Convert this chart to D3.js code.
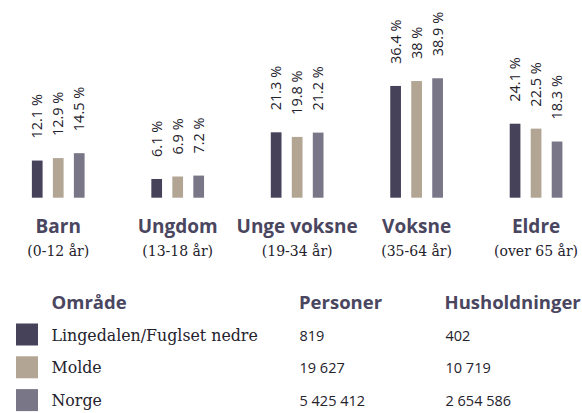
<!DOCTYPE html>
<html>
<head>
<meta charset="utf-8">
<script src="https://cdn.jsdelivr.net/npm/d3@7"></script>
<style>
  html, body { margin: 0; padding: 0; background: #fff; }
  svg { display: block; }
</style>
</head>
<body>
<svg id="chart" width="582" height="413"></svg>
<script>
(() => {
    // Age groups
    const groups = ["Barn", "Ungdom", "Unge voksne", "Voksne", "Eldre"];
    const groupAges = ["(0-12 år)", "(13-18 år)", "(19-34 år)", "(35-64 år)", "(over 65 år)"];

    // Areas (series) and their shares per age group, in %
    const areas = ["Lingedalen/Fuglset nedre", "Molde", "Norge"];
    const lingedalen = [12.1, 6.1, 21.3, 36.4, 24.1];
    const molde = [12.9, 6.9, 19.8, 38, 22.5];
    const norge = [14.5, 7.2, 21.2, 38.9, 18.3];

    // Population and households per area
    const personer = ["819", "19 627", "5 425 412"];
    const husholdninger = ["402", "10 719", "2 654 586"];

    const colors = ["#46425a", "#b2a593", "#797687"];
    const headColor = "#4a4660";
    const textColor = "#24222c";

    const svg = d3.select("#chart");
    const series = [lingedalen, molde, norge];

    const x0 = d3.scaleBand()
        .domain(groups)
        .range([-1.5, 595.8])
        .padding(0);

    const x1 = d3.scaleBand()
        .domain(d3.range(areas.length))
        .range([-31.5, 31.5])
        .paddingInner(0.49)
        .paddingOuter(0.245);

    const y = d3.scaleLinear()
        .domain([0, 40])
        .range([197.7, 197.7 - 40 * 3.07]);

    const data = groups.map((g, i) => ({
        group: g,
        values: series.map((s, j) => ({ key: j, value: s[i] }))
    }));

    const groupG = svg.selectAll(".group")
        .data(data)
        .enter()
        .append("g")
        .attr("class", "group")
        .attr("transform", d => `translate(${x0(d.group) + x0.bandwidth() / 2},0)`);

    groupG.selectAll("rect")
        .data(d => d.values)
        .enter()
        .append("rect")
        .attr("x", d => x1(d.key))
        .attr("width", x1.bandwidth())
        .attr("y", d => y(d.value))
        .attr("height", d => y(0) - y(d.value))
        .attr("fill", d => colors[d.key]);

    // Rotated value labels above bars
    groupG.selectAll(".val")
        .data(d => d.values)
        .enter()
        .append("text")
        .attr("class", "val")
        .attr("transform", d => `translate(${x1(d.key) + x1.bandwidth() / 2},${y(d.value) - 22}) rotate(-90)`)
        .attr("dy", "0.36em")
        .style("font-family", "'Open Sans', sans-serif")
        .style("font-size", "14.5px")
        .style("fill", textColor)
        .text(d => `${d.value} %`);

    // Category titles
    groupG.append("text")
        .attr("y", 232.7)
        .attr("text-anchor", "middle")
        .style("font-family", "'Open Sans', sans-serif")
        .style("font-weight", 700)
        .style("font-size", "19px")
        .style("fill", headColor)
        .text(d => d.group);

    groupG.append("text")
        .attr("y", 256)
        .attr("text-anchor", "middle")
        .style("font-family", "'DejaVu Serif', serif")
        .style("font-size", "14px")
        .style("fill", textColor)
        .text((d, i) => groupAges[i]);

    // Legend / table
    const headers = [
        { label: "Område", x: 51.5 },
        { label: "Personer", x: 299 },
        { label: "Husholdninger", x: 444.5 }
    ];

    svg.selectAll(".head")
        .data(headers)
        .enter()
        .append("text")
        .attr("class", "head")
        .attr("x", d => d.x)
        .attr("y", 309.3)
        .style("font-family", "'Open Sans', sans-serif")
        .style("font-weight", 700)
        .style("font-size", "18.5px")
        .style("fill", headColor)
        .text(d => d.label);

    const rowTop = i => 323.5 + i * 32.8;

    const rows = svg.selectAll(".row")
        .data(areas)
        .enter()
        .append("g")
        .attr("class", "row")
        .attr("transform", (d, i) => `translate(0,${rowTop(i)})`);

    rows.append("rect")
        .attr("x", 16)
        .attr("width", 22)
        .attr("height", 22)
        .attr("fill", (d, i) => colors[i]);

    rows.append("text")
        .attr("x", 51.5)
        .attr("y", 17)
        .style("font-family", "'DejaVu Serif', serif")
        .style("font-size", "15.8px")
        .style("fill", textColor)
        .text(d => d);

    rows.append("text")
        .attr("x", 299.5)
        .attr("y", 17.2)
        .style("font-family", "'Open Sans', sans-serif")
        .style("font-size", "14.5px")
        .style("fill", textColor)
        .text((d, i) => personer[i]);

    rows.append("text")
        .attr("x", 445.5)
        .attr("y", 17.2)
        .style("font-family", "'Open Sans', sans-serif")
        .style("font-size", "14.5px")
        .style("fill", textColor)
        .text((d, i) => husholdninger[i]);
})();
</script>
</body>
</html>
